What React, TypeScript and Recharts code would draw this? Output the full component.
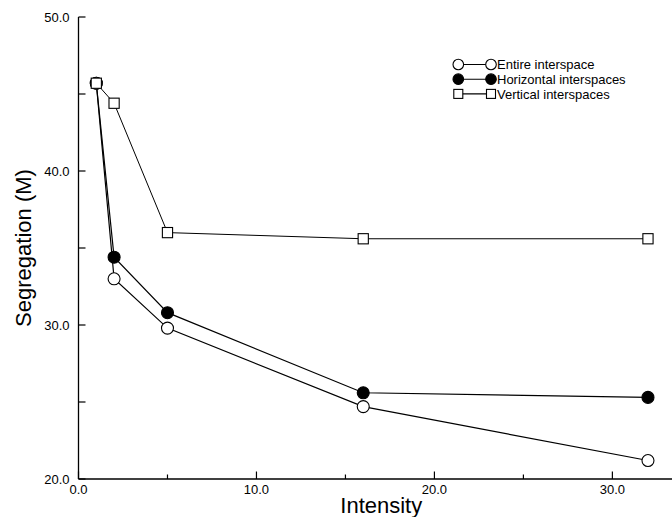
import React from 'react';
import { LineChart, Line, XAxis, YAxis } from 'recharts';

const intensity = [1, 2, 5, 16, 32];
const entire = [45.7, 33.0, 29.8, 24.7, 21.2];
const horizontal = [45.7, 34.4, 30.8, 25.6, 25.3];
const vertical = [45.7, 44.4, 36.0, 35.6, 35.6];

const xTicks = [0, 5, 10, 15, 20, 25, 30];
const yTicks = [20, 25, 30, 35, 40, 45, 50];

const legendNames = ['Entire interspace', 'Horizontal interspaces', 'Vertical interspaces'];
const legendShapes = ['open', 'filled', 'square'];

const FONT = 'Arial, "Liberation Sans", Helvetica, sans-serif';

const chartData = intensity.map((x, i) => ({
  x,
  entire: entire[i],
  horizontal: horizontal[i],
  vertical: vertical[i],
}));

const Marker = ({ cx, cy, shape, r = 6 }: any) => {
  if (cx == null || cy == null) return null;
  if (shape === 'square') {
    const s = r * 0.85;
    return <rect x={cx - s} y={cy - s} width={s * 2} height={s * 2} fill="#fff" stroke="#000" strokeWidth={1.1} />;
  }
  return <circle cx={cx} cy={cy} r={r} fill={shape === 'filled' ? '#000' : '#fff'} stroke="#000" strokeWidth={1.1} />;
};

const XTick = ({ x, y, payload }: any) => {
  const major = payload.value % 10 === 0;
  return (
    <g>
      <line x1={x} x2={x} y1={y} y2={y - (major ? 7.5 : 4.5)} stroke="#000" strokeWidth={1.2} />
      {major && (
        <text x={x} y={y + 15} textAnchor="middle" fontSize={13} fontFamily={FONT} fill="#000">
          {payload.value.toFixed(1)}
        </text>
      )}
    </g>
  );
};

const YTick = ({ x, y, payload }: any) => {
  const major = payload.value % 10 === 0;
  return (
    <g>
      <line x1={x} x2={x + 7} y1={y} y2={y} stroke="#000" strokeWidth={1.2} />
      {major && (
        <text x={x - 9} y={y + 5} textAnchor="end" fontSize={13} fontFamily={FONT} fill="#000">
          {payload.value.toFixed(1)}
        </text>
      )}
    </g>
  );
};

const XTitle = ({ viewBox }: any) => {
  const cx = viewBox.x + viewBox.width / 2 + 6;
  return (
    <text x={cx} y={viewBox.y + 34} textAnchor="middle" fontSize={22} fontFamily={FONT} fill="#000">
      Intensity
    </text>
  );
};

const YTitle = ({ viewBox }: any) => {
  const cy = viewBox.y + viewBox.height / 2;
  const cx = 31;
  return (
    <text x={cx} y={cy} transform={`rotate(-90, ${cx}, ${cy})`} textAnchor="middle" fontSize={22} fontFamily={FONT} fill="#000">
      Segregation (M)
    </text>
  );
};

const LegendBox = () => (
  <svg width={230} height={50} style={{ position: 'absolute', left: 450, top: 55 }}>
    {legendNames.map((name, i) => {
      const cy = 9.5 + i * 14.7;
      return (
        <g key={name}>
          <line x1={8.3} x2={41} y1={cy} y2={cy} stroke="#000" strokeWidth={1.1} />
          <Marker cx={8.3} cy={cy} shape={legendShapes[i]} r={5.3} />
          <Marker cx={41} cy={cy} shape={legendShapes[i]} r={5.3} />
          <text x={47} y={cy + 4.7} fontSize={13} fontFamily={FONT} fill="#000">
            {name}
          </text>
        </g>
      );
    })}
  </svg>
);

const App: React.FC = () => {
  return (
    <div style={{ position: 'absolute', left: 0, top: 0, width: 672, height: 517, background: '#fff' }}>
      <LineChart width={672} height={517} data={chartData} margin={{ top: 17, right: 0, left: 0, bottom: 0 }}>
        <XAxis
          dataKey="x"
          type="number"
          domain={[0, 33.35]}
          ticks={xTicks}
          height={38}
          tickSize={0}
          tickMargin={0}
          tickLine={false}
          tick={<XTick />}
          axisLine={{ stroke: '#000', strokeWidth: 1.3 }}
          interval={0}
          label={<XTitle />}
        />
        <YAxis
          type="number"
          domain={[20, 50]}
          ticks={yTicks}
          width={78.5}
          tickSize={0}
          tickMargin={0}
          tickLine={false}
          tick={<YTick />}
          axisLine={{ stroke: '#000', strokeWidth: 1.3 }}
          interval={0}
          label={<YTitle />}
        />
        <Line dataKey="horizontal" name="Horizontal interspaces" stroke="#000" strokeWidth={1.2} isAnimationActive={false}
          dot={(p: any) => <Marker key={p.index} cx={p.cx} cy={p.cy} shape="filled" />} activeDot={false} />
        <Line dataKey="entire" name="Entire interspace" stroke="#000" strokeWidth={1.2} isAnimationActive={false}
          dot={(p: any) => <Marker key={p.index} cx={p.cx} cy={p.cy} shape="open" />} activeDot={false} />
        <Line dataKey="vertical" name="Vertical interspaces" stroke="#000" strokeWidth={1.0} isAnimationActive={false}
          dot={(p: any) => <Marker key={p.index} cx={p.cx} cy={p.cy} shape="square" />} activeDot={false} />
      </LineChart>
      <LegendBox />
    </div>
  );
};

export default App;
